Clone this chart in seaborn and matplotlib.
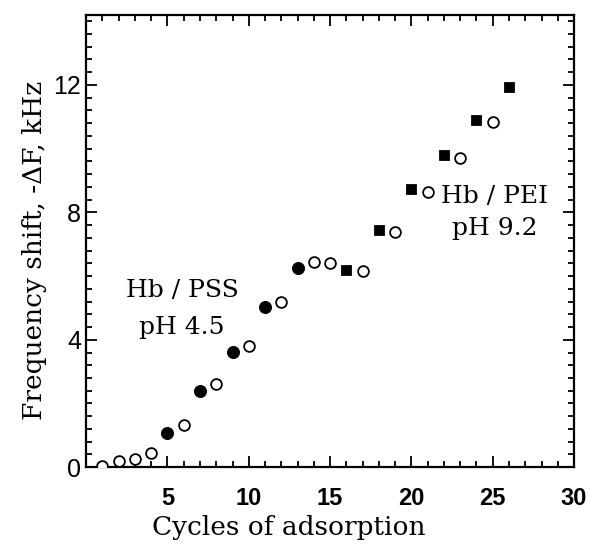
import numpy as np
import matplotlib.pyplot as plt
import pandas as pd
import seaborn as sns
from matplotlib.ticker import MultipleLocator

# Hb adsorption steps at pH 4.5 (filled circles)
hb_pss_x = [5, 7, 9, 11, 13]
hb_pss_y = [1.07, 2.4, 3.63, 5.02, 6.25]

# polyion adsorption steps (open circles)
poly_x = [1, 2, 3, 4, 6, 8, 10, 12, 14, 15, 17, 19, 21, 23, 25]
poly_y = [0.05, 0.2, 0.25, 0.45, 1.32, 2.6, 3.82, 5.2, 6.45, 6.4, 6.15, 7.38, 8.65, 9.72, 10.85]

# Hb adsorption steps at pH 9.2 (filled squares)
hb_pei_x = [16, 18, 20, 22, 24, 26]
hb_pei_y = [6.2, 7.45, 8.72, 9.8, 10.9, 11.92]

sns.set_style("ticks")
plt.rcParams['font.family'] = ['DejaVu Serif']
plt.rcParams['text.color'] = 'black'
plt.rcParams['axes.labelcolor'] = 'black'
plt.rcParams['xtick.color'] = 'black'
plt.rcParams['ytick.color'] = 'black'
plt.rcParams['axes.edgecolor'] = 'black'

fig, ax = plt.subplots(figsize=(5.9, 5.49), dpi=100)

df1 = pd.DataFrame({'cycle': hb_pss_x, 'shift': hb_pss_y})
df2 = pd.DataFrame({'cycle': poly_x, 'shift': poly_y})
df3 = pd.DataFrame({'cycle': hb_pei_x, 'shift': hb_pei_y})

sns.scatterplot(data=df2, x='cycle', y='shift', ax=ax, marker='o', s=60,
                facecolor='white', edgecolor='black', linewidth=1.3, zorder=3)
sns.scatterplot(data=df1, x='cycle', y='shift', ax=ax, marker='o', s=75,
                color='black', edgecolor='black', zorder=3)
sns.scatterplot(data=df3, x='cycle', y='shift', ax=ax, marker='s', s=55,
                color='black', edgecolor='black', zorder=3)

ax.set_xlim(0, 30)
ax.set_ylim(0, 14.2)
ax.xaxis.set_major_locator(MultipleLocator(5))
ax.xaxis.set_minor_locator(MultipleLocator(1))
ax.yaxis.set_major_locator(MultipleLocator(4))
ax.yaxis.set_minor_locator(MultipleLocator(0.4))
ax.set_xticks([5, 10, 15, 20, 25, 30])

ax.tick_params(which='both', direction='in', top=True, right=True, width=1.3)
ax.tick_params(which='major', length=8)
ax.tick_params(which='minor', length=4)
for lab in ax.get_xticklabels():
    lab.set_fontfamily('Liberation Sans')
    lab.set_fontweight('bold')
    lab.set_fontsize(17)
for lab in ax.get_yticklabels():
    lab.set_fontfamily('Liberation Sans')
    lab.set_fontsize(18)
ax.tick_params(axis='x', pad=14)
for sp in ax.spines.values():
    sp.set_linewidth(1.6)

ax.set_xlabel('Cycles of adsorption', fontsize=19)
ax.set_ylabel('Frequency shift, -ΔF, kHz', fontsize=19)
ax.xaxis.set_label_coords(0.416, -0.105)
ax.yaxis.set_label_coords(-0.08, 0.48)

ax.text(5.9, 5.55, 'Hb / PSS', fontsize=18, ha='center', va='center')
ax.text(5.9, 4.4, 'pH 4.5', fontsize=18, ha='center', va='center')
ax.text(25.1, 8.5, 'Hb / PEI', fontsize=18, ha='center', va='center')
ax.text(25.1, 7.5, 'pH 9.2', fontsize=18, ha='center', va='center')

fig.subplots_adjust(left=0.146, right=0.973, top=0.973, bottom=0.149)
fig.savefig('out.png', dpi=100)
